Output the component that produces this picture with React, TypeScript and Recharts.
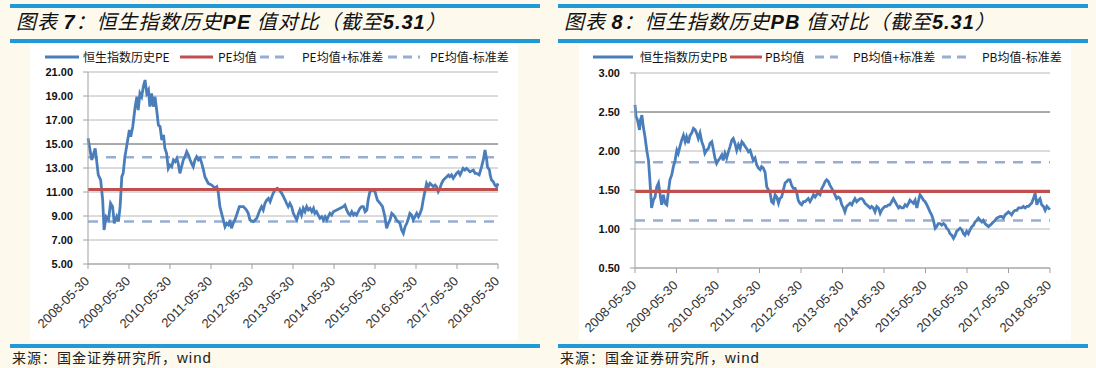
import React from 'react';
import { LineChart, Line, XAxis, YAxis, CartesianGrid, ReferenceLine } from 'recharts';

// x axis: months since 2008-05-30
const xTickMonths = [0, 12, 24, 36, 48, 60, 72, 84, 96, 108, 120];
const xTickLabels = [
  '2008-05-30', '2009-05-30', '2010-05-30', '2011-05-30', '2012-05-30', '2013-05-30',
  '2014-05-30', '2015-05-30', '2016-05-30', '2017-05-30', '2018-05-30',
];

const peMonths = [
  0.0, 1.1, 2.1, 2.5, 3.0, 3.7, 4.3, 4.7, 5.3, 6.0, 6.6, 7.2, 7.7, 8.4, 8.9, 9.4, 9.9, 10.3, 10.8, 11.3,
  12.1, 12.5, 13.1, 13.8, 14.3, 14.7, 15.2, 15.7, 16.2, 16.7, 17.2, 17.7, 18.1, 18.6, 19.1, 19.6, 20.1, 20.6, 21.1, 21.6,
  22.1, 22.5, 23.0, 23.5, 24.0, 24.5, 25.0, 25.5, 26.0, 26.4, 26.9, 27.4, 27.9, 28.4, 28.9, 29.4, 29.9, 30.3, 30.8, 31.3,
  31.8, 32.3, 32.8, 33.3, 33.8, 34.2, 34.7, 35.2, 36.2, 37.2, 37.7, 38.1, 38.6, 39.1, 39.6, 40.1, 40.6, 41.1, 41.6, 42.0,
  42.5, 43.0, 43.5, 44.3, 45.0, 45.5, 46.4, 46.9, 47.4, 48.4, 48.9, 49.4, 50.3, 50.8, 51.3, 51.8, 52.3, 52.8, 53.3, 53.8,
  54.2, 54.7, 55.4, 56.0, 56.7, 57.2, 57.7, 58.1, 58.6, 59.1, 59.6, 60.1, 60.6, 61.1, 61.6, 62.0, 62.5, 63.0, 63.5, 64.0,
  64.5, 65.0, 65.5, 66.0, 66.4, 66.9, 67.4, 67.9, 68.4, 68.9, 69.4, 69.9, 70.3, 70.8, 71.3, 71.8, 72.8, 73.8, 74.7, 75.2,
  75.7, 76.2, 76.7, 77.2, 77.7, 78.1, 78.6, 79.1, 79.6, 80.1, 80.6, 81.1, 81.6, 82.0, 82.5, 83.3, 84.0, 84.7, 85.5, 86.2,
  86.9, 87.4, 87.9, 88.4, 88.9, 89.4, 89.8, 90.3, 90.8, 91.3, 91.8, 92.3, 92.8, 93.3, 93.8, 94.2, 94.7, 95.2, 95.7, 96.2,
  96.7, 97.2, 97.7, 98.1, 98.6, 99.1, 99.6, 100.1, 100.6, 101.1, 101.6, 102.0, 102.5, 103.0, 103.5, 104.0, 105.0, 105.5, 105.9, 106.4,
  106.9, 107.9, 108.4, 108.9, 109.8, 110.3, 110.8, 111.8, 112.8, 113.3, 113.7, 114.5, 115.2, 115.7, 116.2, 116.7, 116.9, 117.5, 117.7, 118.1,
  118.6, 119.1, 119.6, 120.0,
];
const peValues = [
  15.47, 13.67, 14.64, 13.67, 12.42, 12.0, 10.33, 7.83, 8.94, 8.67, 10.06, 9.78, 8.39, 8.94, 8.53, 9.78, 12.28, 12.56, 13.94, 14.78,
  16.17, 15.61, 16.44, 18.11, 18.94, 17.83, 19.22, 18.94, 19.78, 20.33, 19.22, 19.5, 18.11, 19.22, 18.11, 18.94, 17.83, 16.58, 16.44, 15.33,
  15.75, 14.64, 14.22, 12.97, 13.25, 13.11, 13.67, 13.53, 13.81, 13.39, 12.56, 13.11, 13.67, 13.94, 14.36, 14.08, 13.67, 13.39, 13.11, 13.67,
  13.94, 13.67, 13.81, 13.39, 12.83, 12.28, 12.0, 11.72, 11.58, 11.31, 11.44, 11.03, 9.78, 9.22, 8.67, 8.11, 8.39, 8.25, 8.67, 7.97,
  8.39, 8.67, 9.08, 9.78, 9.78, 9.78, 9.5, 9.22, 8.67, 8.53, 8.67, 8.81, 9.5, 9.78, 9.5, 10.06, 10.33, 10.47, 10.19, 10.61,
  10.89, 11.17, 11.31, 11.17, 10.89, 10.61, 10.33, 10.06, 9.78, 10.06, 9.78, 9.22, 8.94, 8.67, 9.22, 9.5, 9.08, 9.64, 9.36, 9.78,
  9.5, 9.64, 9.36, 9.64, 9.22, 9.36, 9.08, 8.81, 8.94, 8.67, 8.94, 8.67, 8.94, 9.22, 9.08, 9.36, 9.5, 9.64, 9.78, 9.92,
  9.5, 9.22, 9.08, 9.36, 9.08, 9.22, 9.08, 9.36, 9.64, 9.78, 9.78, 9.36, 9.5, 10.33, 11.03, 11.17, 11.03, 10.33, 10.06, 9.78,
  8.94, 7.97, 8.39, 8.67, 9.22, 9.08, 8.94, 8.67, 8.53, 8.39, 7.83, 7.56, 8.11, 8.39, 8.81, 9.22, 9.08, 8.67, 8.94, 9.22,
  8.94, 9.22, 9.64, 10.33, 11.03, 11.72, 11.44, 11.72, 11.58, 11.44, 11.58, 11.44, 11.03, 11.31, 11.72, 12.0, 12.28, 12.42, 12.28, 12.42,
  12.14, 12.56, 12.69, 12.42, 12.97, 12.83, 12.97, 12.69, 12.83, 12.56, 12.56, 12.42, 13.11, 13.67, 14.5, 13.67, 13.11, 12.83, 12.42, 12.0,
  11.86, 11.58, 11.44, 11.72,
];

const pbMonths = [
  0.0, 0.3, 0.7, 1.3, 1.6, 2.0, 2.4, 2.9, 3.4, 3.9, 4.3, 4.8, 5.3, 5.8, 6.3, 6.8, 7.2, 7.7, 8.2, 8.7,
  9.2, 9.6, 10.1, 10.6, 11.1, 11.6, 12.1, 12.5, 13.0, 13.5, 14.0, 14.5, 14.9, 15.4, 15.9, 16.4, 16.9, 17.4, 17.8, 18.3,
  18.8, 19.3, 19.8, 20.2, 20.7, 21.2, 21.7, 22.2, 22.7, 23.1, 23.6, 24.1, 24.6, 25.1, 25.5, 26.0, 26.5, 27.0, 27.5, 28.0,
  28.4, 28.9, 29.4, 29.9, 30.4, 30.9, 31.3, 31.8, 32.3, 32.8, 33.3, 33.7, 34.2, 34.7, 35.2, 35.7, 36.2, 36.6, 37.1, 37.6,
  38.1, 38.6, 39.0, 39.5, 40.0, 40.5, 41.0, 41.5, 41.9, 42.4, 42.9, 43.4, 43.9, 44.3, 44.8, 45.3, 45.8, 46.3, 46.8, 47.2,
  47.7, 48.2, 48.7, 49.2, 49.6, 50.1, 50.6, 51.1, 51.6, 52.1, 52.5, 53.0, 53.5, 54.0, 54.5, 55.0, 55.4, 55.9, 56.4, 56.9,
  57.4, 57.8, 58.3, 58.8, 59.3, 59.8, 60.3, 60.7, 61.2, 61.7, 62.2, 62.7, 63.1, 63.6, 64.1, 64.6, 65.1, 65.6, 66.0, 66.5,
  67.0, 67.5, 68.0, 68.4, 68.9, 69.4, 69.9, 70.4, 70.9, 71.3, 71.8, 72.3, 72.8, 73.3, 73.7, 74.2, 74.7, 75.2, 75.7, 76.2,
  76.6, 77.1, 77.6, 78.1, 78.6, 79.1, 79.5, 80.0, 80.5, 81.0, 81.5, 81.9, 82.4, 82.9, 83.4, 83.9, 84.4, 84.8, 85.3, 85.8,
  86.3, 86.8, 87.2, 87.7, 88.2, 88.7, 89.2, 89.7, 90.1, 90.6, 91.1, 91.6, 92.1, 92.6, 93.0, 93.5, 94.0, 94.5, 95.0, 95.4,
  95.9, 96.4, 96.9, 97.4, 97.9, 98.3, 98.8, 99.3, 99.8, 100.3, 100.7, 101.2, 101.7, 102.2, 102.7, 103.2, 103.6, 104.1, 104.6, 105.6,
  106.0, 106.5, 107.0, 107.5, 108.0, 108.5, 108.9, 109.4, 109.9, 110.4, 110.9, 111.3, 111.8, 112.3, 112.8, 113.3, 113.8, 114.2, 114.7, 115.2,
  115.7, 116.2, 116.7, 117.1, 117.6, 118.1, 118.6, 119.1, 119.5, 120.0,
];
const pbValues = [
  2.59, 2.44, 2.4, 2.27, 2.4, 2.46, 2.31, 2.18, 2.01, 1.88, 1.63, 1.27, 1.37, 1.41, 1.54, 1.59, 1.46, 1.31, 1.44, 1.33,
  1.31, 1.46, 1.63, 1.69, 1.8, 1.88, 2.01, 1.97, 2.06, 2.14, 2.2, 2.12, 2.18, 2.1, 2.2, 2.23, 2.29, 2.27, 2.23, 2.16,
  2.23, 2.12, 2.06, 1.97, 2.01, 2.03, 2.1, 2.12, 2.01, 1.91, 1.84, 1.88, 1.91, 1.95, 1.88, 1.97, 1.91, 1.99, 2.06, 2.14,
  2.16, 2.1, 2.01, 2.08, 2.03, 2.12, 2.1, 2.06, 2.03, 1.99, 2.01, 1.95, 1.88, 1.91, 1.82, 1.78, 1.76, 1.8, 1.78, 1.73,
  1.54, 1.5, 1.48, 1.35, 1.33, 1.44, 1.41, 1.33, 1.39, 1.41, 1.5, 1.59, 1.61, 1.63, 1.63, 1.56, 1.52, 1.52, 1.46, 1.37,
  1.33, 1.31, 1.35, 1.35, 1.37, 1.39, 1.35, 1.39, 1.44, 1.41, 1.44, 1.46, 1.44, 1.52, 1.56, 1.61, 1.63, 1.61, 1.56, 1.52,
  1.48, 1.44, 1.39, 1.41, 1.39, 1.31, 1.27, 1.22, 1.29, 1.31, 1.33, 1.31, 1.35, 1.39, 1.35, 1.37, 1.39, 1.39, 1.37, 1.33,
  1.31, 1.29, 1.27, 1.29, 1.27, 1.22, 1.29, 1.27, 1.2, 1.24, 1.27, 1.29, 1.29, 1.31, 1.31, 1.35, 1.39, 1.35, 1.31, 1.27,
  1.29, 1.27, 1.27, 1.31, 1.29, 1.33, 1.37, 1.35, 1.33, 1.37, 1.27, 1.35, 1.44, 1.41, 1.37, 1.35, 1.31, 1.27, 1.22, 1.18,
  1.11, 1.01, 1.03, 1.07, 1.07, 1.05, 1.07, 1.05, 1.01, 0.99, 0.94, 0.92, 0.88, 0.92, 0.97, 0.99, 1.01, 0.99, 0.94, 0.92,
  0.97, 0.94, 0.99, 1.03, 1.05, 1.09, 1.11, 1.14, 1.11, 1.09, 1.11, 1.07, 1.05, 1.03, 1.05, 1.07, 1.09, 1.11, 1.14, 1.16,
  1.16, 1.14, 1.18, 1.2, 1.22, 1.2, 1.18, 1.22, 1.24, 1.24, 1.27, 1.27, 1.27, 1.29, 1.27, 1.29, 1.29, 1.31, 1.33, 1.39,
  1.46, 1.31, 1.37, 1.39, 1.31, 1.29, 1.24, 1.29, 1.27, 1.25,
];

const peYTicks = [5, 7, 9, 11, 13, 15, 17, 19, 21];
const pbYTicks = [0.5, 1, 1.5, 2, 2.5, 3];

const peBands = { mean: 11.2, plus: 13.9, minus: 8.55 };
const pbBands = { mean: 1.48, plus: 1.855, minus: 1.11 };

const peLegend = ['恒生指数历史PE', 'PE均值', 'PE均值+标准差', 'PE均值-标准差'];
const pbLegend = ['恒生指数历史PB', 'PB均值', 'PB均值+标准差', 'PB均值-标准差'];

const peData = peMonths.map((m, i) => ({ m, v: peValues[i] }));
const pbData = pbMonths.map((m, i) => ({ m, v: pbValues[i] }));

const CREAM = '#fdf9ed';
const RULE = '#1f9ad6';
const LINE_BLUE = '#4a7ebb';
const MEAN_RED = '#c0504d';
const DASH_BLUE = '#97add2';
const GRID = '#b8b8b8';
const CJK = '"Noto Sans CJK SC", "Noto Sans", sans-serif';
const LATIN = '"Liberation Sans", Arial, sans-serif';

const XTick = (props: any) => {
  const { x, y, payload } = props;
  const label = xTickLabels[xTickMonths.indexOf(payload.value)];
  const tx = x + 2;
  const ty = y + 11;
  return (
    <text x={tx} y={ty} textAnchor="end" transform={`rotate(-45, ${tx}, ${ty})`}
      fontSize={13} fill="#333" fontFamily={LATIN}>
      {label}
    </text>
  );
};

type PanelProps = {
  x0: number;
  num: string;
  metric: string;
  legend: string[];
  legendPos: number[][];
  data: { m: number; v: number }[];
  yTicks: number[];
  bands: { mean: number; plus: number; minus: number };
  darkLine: number;
  box: { left: number; width: number };
  margin: { top: number; right: number };
  yWidth: number;
  xHeight: number;
};

const LegendSample = ({ kind }: { kind: number }) => {
  const stroke = kind === 0 ? LINE_BLUE : kind === 1 ? MEAN_RED : DASH_BLUE;
  return (
    <svg width="100%" height="6" style={{ display: 'block' }}>
      <line x1="0" y1="3" x2="100%" y2="3" stroke={stroke} strokeWidth={kind === 1 ? 3 : 2.8}
        strokeDasharray={kind >= 2 ? '9 6' : undefined} />
    </svg>
  );
};

const Panel = (p: PanelProps) => {
  const chartH = 296;
  return (
    <div style={{ position: 'absolute', left: p.x0, top: 0, width: 548, height: 368 }}>
      <div style={{ position: 'absolute', left: 10, top: 4, width: 530, height: 4, background: RULE }} />
      <div style={{
        position: 'absolute', left: 16, top: 8, height: 26, lineHeight: '26px', fontSize: 20,
        fontStyle: 'italic', fontFamily: CJK, color: '#111', whiteSpace: 'nowrap', letterSpacing: 1,
      }}>
        图表 <b style={{ fontFamily: LATIN }}>{p.num}</b>：恒生指数历史<b style={{ fontFamily: LATIN }}>{p.metric}</b> 值对比（截至<b style={{ fontFamily: LATIN }}>5.31</b>）
      </div>
      <div style={{ position: 'absolute', left: 10, top: 39, width: 530, height: 4, background: RULE }} />

      <div style={{ position: 'absolute', left: p.box.left, top: 44, width: p.box.width, height: chartH, background: '#fff' }}>
        <LineChart width={p.box.width} height={chartH} data={p.data}
          margin={{ top: p.margin.top, right: p.margin.right, left: 0, bottom: 0 }}>
          <CartesianGrid vertical={false} stroke={GRID} />
          <XAxis dataKey="m" type="number" domain={[0, 120]} ticks={xTickMonths} interval={0}
            height={p.xHeight} tick={<XTick />} tickSize={5} stroke="#a0a0a0" />
          <YAxis type="number" domain={[p.yTicks[0], p.yTicks[p.yTicks.length - 1]]} ticks={p.yTicks}
            interval={0} width={p.yWidth} tickSize={5} tickMargin={10} stroke="#a0a0a0"
            tick={{ fontSize: 11, fill: '#111', fontFamily: LATIN, fontWeight: 'bold' }}
            tickFormatter={(v: number) => v.toFixed(2)} />
          <ReferenceLine y={p.darkLine} stroke="#7a7a7a" strokeWidth={1} />
          <ReferenceLine y={p.bands.plus} stroke={DASH_BLUE} strokeWidth={2.5} strokeDasharray="10 8" />
          <ReferenceLine y={p.bands.minus} stroke={DASH_BLUE} strokeWidth={2.5} strokeDasharray="10 8" />
          <Line type="linear" dataKey="v" stroke={LINE_BLUE} strokeWidth={2.8} dot={false} isAnimationActive={false} />
          <ReferenceLine y={p.bands.mean} stroke={MEAN_RED} strokeWidth={3} />
        </LineChart>
        {p.legend.map((label, i) => {
          const [s0, s1, t0] = p.legendPos[i];
          return (
            <React.Fragment key={label}>
              <div style={{ position: 'absolute', left: s0 - p.box.left, top: 10, width: s1 - s0 }}>
                <LegendSample kind={i} />
              </div>
              <div style={{
                position: 'absolute', left: t0 - p.box.left, top: 5, lineHeight: '16px', fontSize: 12,
                fontFamily: CJK, color: '#111', whiteSpace: 'nowrap',
              }}>{label}</div>
            </React.Fragment>
          );
        })}
      </div>

      <div style={{ position: 'absolute', left: 10, top: 344, width: 530, height: 4, background: RULE }} />
      <div style={{
        position: 'absolute', left: 12, top: 349, lineHeight: '16px', fontSize: 14, fontFamily: CJK,
        color: '#222', whiteSpace: 'nowrap', letterSpacing: 1,
      }}>来源：国金证券研究所，<span style={{ fontFamily: LATIN, fontSize: 15 }}>wind</span></div>
    </div>
  );
};

export default function App() {
  return (
    <div style={{ position: 'absolute', left: 0, top: 0, width: 1096, height: 368, background: CREAM, overflow: 'hidden' }}>
      <Panel x0={0} num="7" metric="PE" legend={peLegend}
        legendPos={[[45, 79, 83], [180, 213, 218], [260, 284, 302], [388, 420, 430]]}
        data={peData} yTicks={peYTicks} bands={peBands} darkLine={15}
        box={{ left: 30, width: 488 }} margin={{ top: 28, right: 20 }} yWidth={58} xHeight={76} />
      <Panel x0={548} num="8" metric="PB" legend={pbLegend}
        legendPos={[[45, 85, 92], [182, 214, 217], [267, 290, 305], [394, 422, 434]]}
        data={pbData} yTicks={pbYTicks} bands={pbBands} darkLine={2.5}
        box={{ left: 31, width: 492 }} margin={{ top: 29, right: 21 }} yWidth={56} xHeight={72} />
    </div>
  );
}
